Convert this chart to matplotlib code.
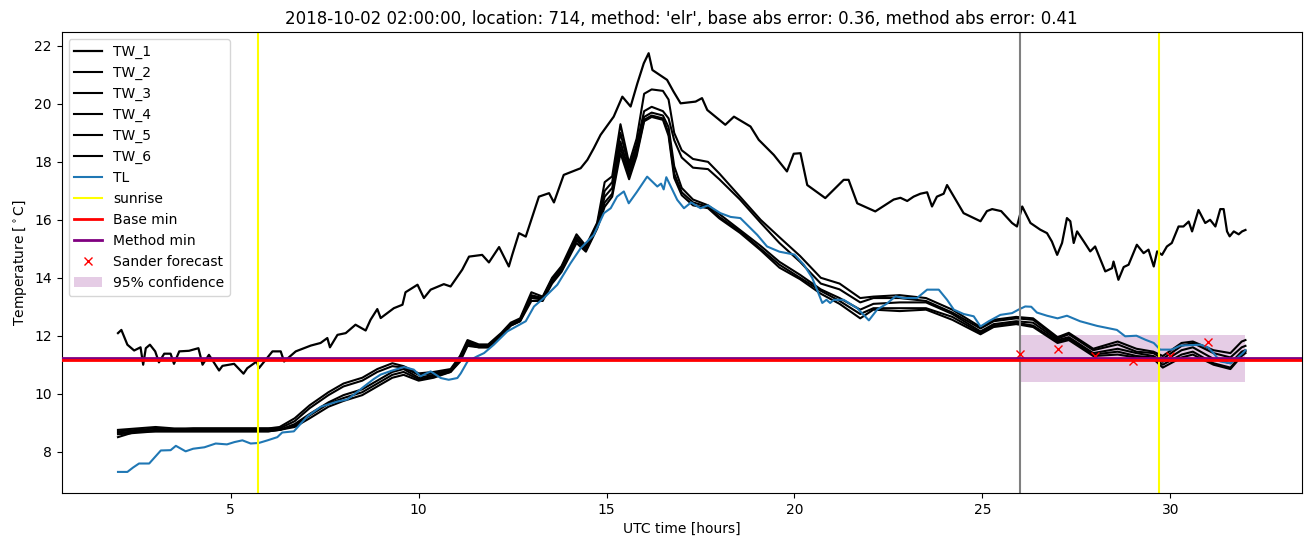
import matplotlib
matplotlib.use("Agg")
import matplotlib.pyplot as plt

title = ("2018-10-02 02:00:00, location: 714, method: 'elr', "
         "base abs error: 0.36, method abs error: 0.41")

# TW_1: the noisy upper sensor
tw1_t = [2.0, 2.09, 2.25, 2.43, 2.6, 2.67, 2.74, 2.85, 2.99, 3.09, 3.23, 3.4, 3.49, 3.63,
         3.89, 4.14, 4.25, 4.42, 4.69, 4.78, 5.09, 5.34, 5.44, 5.69, 5.75, 6.11, 6.33, 6.42,
         6.73, 7.13, 7.39, 7.57, 7.64, 7.84, 8.06, 8.32, 8.59, 8.72, 8.9, 8.99, 9.34, 9.57,
         9.65, 9.97, 10.14, 10.32, 10.67, 10.85, 11.16, 11.34, 11.69, 11.87, 12.14, 12.4,
         12.49, 12.67, 12.85, 13.07, 13.2, 13.47, 13.6, 13.86, 14.31, 14.49, 14.66, 14.84,
         15.19, 15.42, 15.64, 15.82, 15.99, 16.12, 16.22, 16.61, 16.78, 16.97, 17.37, 17.54,
         17.68, 18.16, 18.39, 18.83, 19.05, 19.45, 19.8, 19.98, 20.16, 20.34, 20.82, 21.31,
         21.44, 21.67, 22.15, 22.64, 22.82, 23.0, 23.17, 23.35, 23.53, 23.66, 23.79, 23.97,
         24.06, 24.5, 24.95, 25.12, 25.26, 25.5, 25.79, 25.92, 26.06, 26.28, 26.54, 26.72,
         26.85, 26.99, 27.12, 27.25, 27.34, 27.43, 27.52, 27.7, 27.87, 28.0, 28.18, 28.27,
         28.45, 28.49, 28.62, 28.76, 28.89, 29.11, 29.29, 29.42, 29.56, 29.65, 29.78, 29.91,
         30.04, 30.22, 30.35, 30.49, 30.58, 30.75, 30.93, 31.06, 31.2, 31.33, 31.42, 31.51,
         31.58, 31.69, 31.82, 31.91, 32.0]
tw1 = [12.09, 12.2, 11.69, 11.49, 11.6, 11.0, 11.57, 11.69, 11.46, 11.08, 11.38, 11.38, 11.03,
       11.46, 11.48, 11.57, 11.0, 11.34, 10.8, 10.96, 11.03, 10.69, 10.88, 11.11, 10.88, 11.46,
       11.46, 11.11, 11.46, 11.66, 11.75, 11.92, 11.6, 12.03, 12.09, 12.38, 12.18, 12.55, 12.92,
       12.61, 12.95, 13.07, 13.5, 13.76, 13.3, 13.59, 13.78, 13.7, 14.28, 14.73, 14.79, 14.53,
       15.06, 14.39, 14.79, 15.54, 15.42, 16.29, 16.8, 16.92, 16.6, 17.55, 17.78, 18.07, 18.47,
       18.93, 19.56, 20.25, 19.91, 20.71, 21.4, 21.75, 21.17, 20.83, 20.43, 20.02, 20.08, 20.2,
       19.79, 19.28, 19.56, 19.22, 18.76, 18.24, 17.67, 18.28, 18.3, 17.2, 16.75, 17.38, 17.38,
       16.57, 16.29, 16.7, 16.76, 16.65, 16.8, 16.9, 16.95, 16.46, 16.8, 16.9, 17.2, 16.23,
       15.95, 16.3, 16.37, 16.3, 15.89, 15.77, 16.46, 15.89, 15.66, 15.54, 15.25, 14.79, 15.2,
       16.06, 15.95, 15.2, 15.6, 15.25, 14.91, 15.08, 14.5, 14.22, 14.33, 14.56, 13.93, 14.37,
       14.45, 15.14, 14.85, 14.97, 14.39, 14.91, 14.79, 15.08, 15.2, 15.77, 15.77, 15.94, 15.6,
       16.34, 15.89, 16.0, 15.77, 16.37, 16.37, 15.6, 15.43, 15.6, 15.5, 15.6, 15.65]

# TW_2 .. TW_6 share one time base
tw_t = [2.0, 2.5, 3.0, 3.5, 4.0, 4.5, 5.0, 5.5, 6.0, 6.3, 6.7, 7.1, 7.6, 8.0, 8.5, 8.9, 9.3,
        9.6, 10.0, 10.4, 10.85, 11.1, 11.3, 11.6, 11.85, 12.2, 12.45, 12.7, 13.0, 13.3, 13.55,
        13.8, 14.2, 14.45, 14.75, 14.95, 15.15, 15.37, 15.6, 15.8, 16.0, 16.2, 16.5, 16.65,
        16.8, 17.0, 17.3, 17.7, 18.0, 18.55, 19.1, 19.6, 20.15, 20.7, 21.2, 21.75, 22.1, 22.8,
        23.5, 24.2, 24.95, 25.3, 25.9, 26.35, 27.0, 27.3, 27.95, 28.6, 29.1, 29.55, 29.8, 30.3,
        30.6, 31.15, 31.6, 31.9, 32.0]
tw2 = [8.7, 8.75, 8.8, 8.75, 8.8, 8.8, 8.8, 8.8, 8.8, 8.85, 9.15, 9.6, 10.05, 10.35, 10.55,
       10.85, 11.05, 10.95, 10.7, 10.75, 10.85, 11.3, 11.85, 11.7, 11.7, 12.1, 12.45, 12.6,
       13.5, 13.35, 14.0, 14.4, 15.5, 15.1, 15.9, 17.3, 17.5, 19.3, 17.95, 18.8, 20.35, 20.5,
       20.45, 20.15, 19.0, 18.4, 18.1, 18.0, 17.6, 16.8, 16.0, 15.4, 14.75, 14.0, 13.8, 13.3,
       13.35, 13.4, 13.3, 12.9, 12.3, 12.55, 12.65, 12.6, 11.95, 12.1, 11.55, 11.8, 11.55,
       11.45, 11.3, 11.75, 11.8, 11.5, 11.4, 11.8, 11.85]
tw3 = [8.75, 8.8, 8.85, 8.8, 8.8, 8.8, 8.8, 8.8, 8.8, 8.8, 9.05, 9.5, 9.95, 10.25, 10.45,
       10.75, 10.95, 10.9, 10.65, 10.7, 10.8, 11.25, 11.8, 11.65, 11.65, 12.05, 12.4, 12.55,
       13.4, 13.3, 13.95, 14.35, 15.4, 15.05, 15.85, 17.0, 17.3, 19.0, 17.8, 18.6, 19.75, 19.9,
       19.75, 19.5, 18.75, 18.15, 17.8, 17.75, 17.4, 16.7, 15.9, 15.2, 14.55, 13.8, 13.6, 13.15,
       13.3, 13.3, 13.2, 12.8, 12.25, 12.5, 12.6, 12.55, 11.9, 12.05, 11.5, 11.7, 11.45, 11.4,
       11.2, 11.65, 11.75, 11.4, 11.25, 11.6, 11.65]
tw4 = [8.6, 8.65, 8.7, 8.7, 8.7, 8.7, 8.7, 8.7, 8.7, 8.75, 8.95, 9.3, 9.7, 9.95, 10.15, 10.45,
       10.75, 10.85, 10.55, 10.65, 10.8, 11.2, 11.75, 11.65, 11.65, 12.05, 12.4, 12.55, 13.35,
       13.3, 13.9, 14.3, 15.35, 15.0, 15.8, 16.8, 17.1, 18.7, 17.65, 18.45, 19.55, 19.7, 19.6,
       19.2, 17.85, 17.1, 16.7, 16.5, 16.2, 15.65, 15.1, 14.55, 14.1, 13.6, 13.3, 12.9, 13.1,
       13.15, 13.15, 12.75, 12.15, 12.4, 12.5, 12.45, 11.85, 11.95, 11.4, 11.55, 11.4, 11.3,
       11.1, 11.5, 11.6, 11.2, 11.05, 11.45, 11.5]
tw5 = [8.65, 8.7, 8.75, 8.75, 8.75, 8.75, 8.75, 8.75, 8.75, 8.75, 8.9, 9.25, 9.65, 9.85,
       10.05, 10.35, 10.65, 10.75, 10.5, 10.6, 10.75, 11.15, 11.7, 11.6, 11.6, 12.0, 12.35,
       12.5, 13.3, 13.25, 13.85, 14.25, 15.3, 14.95, 15.75, 16.6, 16.9, 18.5, 17.5, 18.3, 19.45,
       19.6, 19.5, 19.0, 17.6, 16.95, 16.6, 16.45, 16.1, 15.6, 15.0, 14.45, 14.0, 13.55, 13.2,
       12.75, 12.95, 12.95, 12.95, 12.65, 12.1, 12.35, 12.45, 12.35, 11.8, 11.9, 11.35, 11.45,
       11.3, 11.25, 11.0, 11.35, 11.45, 11.05, 10.9, 11.35, 11.45]
tw6 = [8.5, 8.7, 8.7, 8.7, 8.7, 8.7, 8.7, 8.7, 8.7, 8.75, 8.85, 9.15, 9.55, 9.75, 9.95,
       10.25, 10.55, 10.65, 10.45, 10.55, 10.75, 11.1, 11.65, 11.6, 11.6, 12.0, 12.35, 12.5,
       13.2, 13.2, 13.8, 14.2, 15.2, 14.9, 15.7, 16.45, 16.8, 18.3, 17.4, 18.2, 19.4, 19.55,
       19.45, 18.9, 17.45, 16.85, 16.5, 16.4, 16.05, 15.55, 14.95, 14.35, 13.95, 13.45, 13.1,
       12.6, 12.9, 12.85, 12.9, 12.55, 12.05, 12.3, 12.4, 12.3, 11.75, 11.85, 11.3, 11.35,
       11.25, 11.2, 10.9, 11.25, 11.35, 11.0, 10.85, 11.3, 11.4]

# TL: air temperature
tl_t = [2.0, 2.25, 2.4, 2.56, 2.83, 3.14, 3.4, 3.54, 3.8, 4.0, 4.3, 4.6, 4.9, 5.1, 5.31, 5.53,
        5.75, 5.98, 6.24, 6.37, 6.68, 7.04, 7.4, 7.84, 8.1, 8.28, 8.55, 8.8, 8.99, 9.3, 9.61,
        9.87, 10.05, 10.32, 10.59, 10.8, 11.03, 11.12, 11.3, 11.56, 11.74, 12.0, 12.36, 12.85,
        13.07, 13.33, 13.69, 14.04, 14.31, 14.66, 14.93, 15.11, 15.28, 15.46, 15.59, 15.8,
        16.08, 16.35, 16.45, 16.52, 16.59, 16.88, 17.06, 17.25, 17.5, 17.7, 18.03, 18.3, 18.56,
        19.01, 19.27, 19.6, 20.0, 20.25, 20.47, 20.6, 20.74, 20.85, 20.95, 21.05, 21.31, 21.67,
        21.98, 22.2, 22.45, 22.69, 22.9, 23.26, 23.53, 23.84, 24.06, 24.24, 24.5, 24.77, 24.95,
        25.17, 25.48, 25.79, 25.96, 26.14, 26.3, 26.45, 26.72, 27.0, 27.25, 27.6, 28.05, 28.58,
        28.8, 29.1, 29.34, 29.56, 29.73, 30.04, 30.27, 30.8, 31.0, 31.15, 31.33, 31.6, 31.75,
        31.93, 32.0]
tl = [7.3, 7.3, 7.45, 7.59, 7.59, 8.04, 8.05, 8.2, 8.01, 8.1, 8.15, 8.28, 8.25, 8.33, 8.39,
      8.28, 8.3, 8.39, 8.5, 8.66, 8.7, 9.22, 9.55, 9.73, 9.8, 9.97, 10.25, 10.5, 10.66, 10.8,
      10.92, 10.83, 10.6, 10.77, 10.54, 10.48, 10.54, 10.7, 11.11, 11.29, 11.4, 11.69, 12.15,
      12.5, 13.01, 13.3, 13.76, 14.5, 15.02, 15.48, 16.23, 16.4, 16.8, 16.98, 16.57, 16.95,
      17.49, 17.15, 17.25, 17.05, 17.47, 16.69, 16.4, 16.6, 16.4, 16.5, 16.23, 16.1, 16.06,
      15.48, 15.08, 14.9, 14.8, 14.45, 14.0, 13.59, 13.13, 13.24, 13.13, 13.24, 13.24, 12.95,
      12.53, 12.9, 13.1, 13.36, 13.3, 13.3, 13.59, 13.59, 13.24, 12.9, 12.75, 12.67, 12.32,
      12.5, 12.72, 12.78, 12.9, 13.01, 13.0, 12.8, 12.69, 12.6, 12.69, 12.5, 12.34, 12.2,
      11.98, 12.0, 11.86, 11.75, 11.52, 11.52, 11.66, 11.69, 11.6, 11.4, 11.11, 11.05, 11.2,
      11.4, 11.5]

sunrise = [5.72, 29.71]
forecast_time = 26.0
base_min = 11.17
method_min = 11.24
sander_t = [26, 27, 28, 29, 30, 31]
sander = [11.38, 11.54, 11.29, 11.12, 11.29, 11.77]
conf_t = [26.0, 32.0]
conf_low = 10.39
conf_high = 12.03

fig, ax = plt.subplots(figsize=(13.11, 5.47), dpi=100)
fig.subplots_adjust(left=0.047, right=0.993, top=0.941, bottom=0.099)

ax.plot(tw1_t, tw1, color="black", lw=1.6, label="TW_1")
for name, vals in [("TW_2", tw2), ("TW_3", tw3), ("TW_4", tw4), ("TW_5", tw5), ("TW_6", tw6)]:
    ax.plot(tw_t, vals, color="black", lw=1.5, label=name)
ax.plot(tl_t, tl, color="tab:blue", lw=1.5, label="TL")

ax.axvline(sunrise[0], color="yellow", label="sunrise")
ax.axvline(sunrise[1], color="yellow")
ax.axvline(forecast_time, color="gray")
ax.axhline(base_min, color="red", lw=2, label="Base min", zorder=4)
ax.axhline(method_min, color="purple", lw=2, label="Method min", zorder=3)
ax.plot(sander_t, sander, "x", color="red", label="Sander forecast")
ax.fill_between(conf_t, conf_low, conf_high, color="purple", alpha=0.2,
                lw=0, label="95% confidence")

ax.set_title(title)
ax.set_xlabel("UTC time [hours]")
ax.set_ylabel("Temperature [$^\\circ$C]")
ax.legend(loc="upper left")

fig.savefig("out.png")
